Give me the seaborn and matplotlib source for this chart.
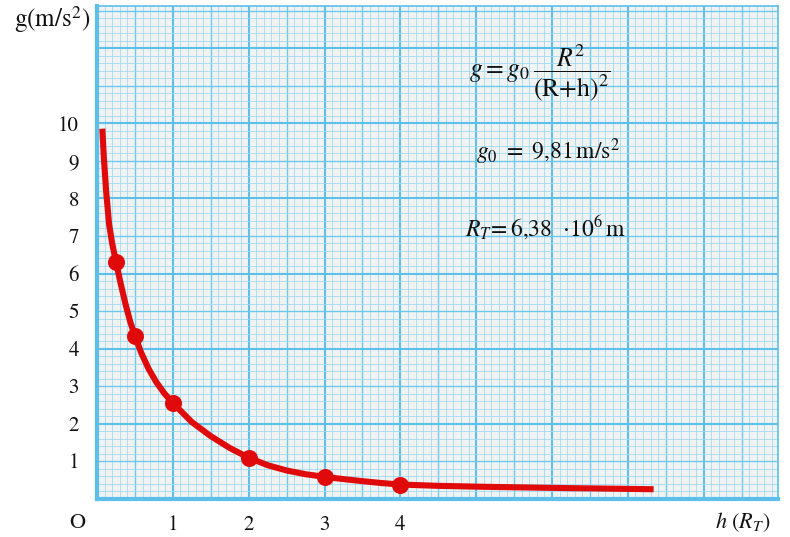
import numpy as np
import pandas as pd
import matplotlib
matplotlib.use("Agg")
import matplotlib.pyplot as plt
import seaborn as sns

# ---- data ----
curve_h = [0.07, 0.09, 0.12, 0.16, 0.20, 0.25, 0.31, 0.38, 0.44, 0.50,
           0.58, 0.68, 0.78, 0.89, 1.0, 1.25, 1.5, 1.75, 2.0, 2.25, 2.5, 2.75,
           3.0, 3.25, 3.5, 3.75, 4.0, 4.5, 5.1, 6.2, 7.34]
curve_g = [9.86, 9.10, 8.20, 7.30, 6.80, 6.31, 5.75, 5.15, 4.70, 4.34,
           3.90, 3.46, 3.11, 2.80, 2.55, 2.04, 1.665, 1.35, 1.09, 0.89, 0.75, 0.65,
           0.58, 0.52, 0.465, 0.415, 0.375, 0.34, 0.315, 0.28, 0.25]
pts_h = [0.25, 0.5, 1, 2, 3, 4]
pts_g = [6.3, 4.34, 2.54, 1.08, 0.58, 0.37]
xtick_vals = [1, 2, 3, 4]
ytick_vals = [1, 2, 3, 4, 5, 6, 7, 8, 9, 10]

curve = pd.DataFrame({"h": curve_h, "g": curve_g})
pts = pd.DataFrame({"h": pts_h, "g": pts_g})

sns.set_style("white")
plt.rcParams["font.family"] = ["STIXGeneral", "DejaVu Serif"]
plt.rcParams["mathtext.fontset"] = "stix"

GRID_MAJ = "#5cc0ea"
GRID_MED = "#6fc8ee"
GRID_MIN = "#a2daf2"
PAPER = "#f1f3f3"
RED = "#e10a0a"

fig = plt.figure(figsize=(7.9, 5.37), dpi=100)
ax = fig.add_axes([0.1228, 0.0715, 0.862, 0.9173])
ax.set_facecolor(PAPER)
ax.set_xlim(0, 8.98)
ax.set_ylim(0, 13.13)

# graph paper grid
for xv in np.arange(0.1, 9.0, 0.1):
    k = int(round(xv * 10))
    if k % 10 == 0:
        c, lw = GRID_MAJ, 1.5
    elif k % 5 == 0:
        c, lw = GRID_MED, 1.0
    else:
        c, lw = GRID_MIN, 0.6
    ax.axvline(xv, color=c, lw=lw, zorder=0)
for yv in np.arange(0.2, 13.2, 0.2):
    k = int(round(yv * 5))
    if k % 10 == 0:
        c, lw = GRID_MAJ, 1.5
    elif k % 5 == 0:
        c, lw = GRID_MED, 1.0
    else:
        c, lw = GRID_MIN, 0.6
    ax.axhline(yv, color=c, lw=lw, zorder=0)

for side in ["left", "bottom"]:
    ax.spines[side].set_color(GRID_MAJ)
    ax.spines[side].set_linewidth(3)
for side in ["top", "right"]:
    ax.spines[side].set_color(GRID_MAJ)
    ax.spines[side].set_linewidth(1.2)

sns.lineplot(data=curve, x="h", y="g", ax=ax, color=RED, lw=4.4, sort=False,
             solid_capstyle="butt", solid_joinstyle="round", zorder=3)
sns.scatterplot(data=pts, x="h", y="g", ax=ax, color=RED, s=150, edgecolor=RED,
                linewidth=0, zorder=4)

ax.set_xlabel("")
ax.set_ylabel("")
ax.set_xticks(xtick_vals)
ax.set_xticklabels([str(v) for v in xtick_vals], fontsize=15)
ax.set_yticks(ytick_vals)
ax.set_yticklabels([str(v) for v in ytick_vals], fontsize=15)
ax.tick_params(axis="both", length=0, colors="#111111")
ax.tick_params(axis="y", pad=13)
ax.tick_params(axis="x", pad=12)

# axis texts
fig.text(52 / 790, 1 - 20 / 537, r"g(m/s$^2$)", fontsize=18, ha="center", va="center",
         color="#111111")
fig.text(77 / 790, 1 - 523 / 537, "O", fontsize=16, ha="center", va="center", color="#111111")
fig.text(743 / 790, 1 - 522 / 537, r"$h\ (R_T)$", fontsize=16, ha="center", va="center",
         color="#111111")

# formula annotations
ax.text(5.84, 11.35, r"$g = g_0\,\dfrac{R^2}{(\mathrm{R{+}h})^2}$", fontsize=18.5,
        ha="center", va="center", color="#111111", zorder=5)
ax.text(5.95, 9.24, r"$g_0\ =\ 9{,}81\,\mathrm{m/s^2}$", fontsize=17,
        ha="center", va="center", color="#111111", zorder=5)
ax.text(5.91, 7.22, r"$R_T\!=6{,}38\ \ {\cdot}10^6\,\mathrm{m}$", fontsize=17,
        ha="center", va="center", color="#111111", zorder=5)

fig.savefig("out.png", dpi=100, facecolor="white")
